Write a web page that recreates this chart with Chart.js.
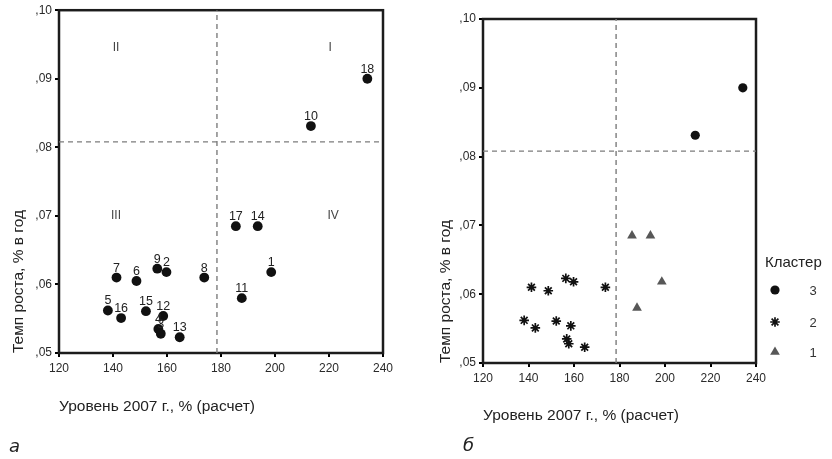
<!DOCTYPE html>
<html>
<head>
<meta charset="utf-8">
<script src="https://cdn.jsdelivr.net/npm/chart.js@4.4.1/dist/chart.umd.min.js"></script>
<style>
  body { margin: 0; background: #fff; width: 832px; height: 459px; position: relative; overflow: hidden; }
  #boxA { position: absolute; left: 0; top: 0; width: 420px; height: 459px; }
  #boxB { position: absolute; left: 420px; top: 0; width: 412px; height: 459px; }
  .tag { position: absolute; font-family: 'DejaVu Sans', sans-serif; font-style: italic; font-size: 18px; color: #222; line-height: 1; }
</style>
</head>
<body>
<div id="boxA"><canvas id="chartA" width="420" height="459"></canvas></div>
<div id="boxB"><canvas id="chartB" width="412" height="459"></canvas></div>
<div class="tag" style="left:9px; top:437px;">а</div>
<div class="tag" style="left:463px; top:436px;">б</div>

<script>
// --- data ---
const regionIds  = ['1','2','3','4','5','6','7','8','9','10','11','12','13','14','15','16','17','18'];
const level2007  = [198.6, 159.8, 157.7, 156.8, 138.1, 148.7, 141.3, 173.8, 156.4, 213.3, 187.7, 158.6, 164.7, 193.6, 152.2, 143.0, 185.5, 234.2];
const growthRate = [0.0618, 0.0618, 0.0528, 0.0535, 0.0562, 0.0605, 0.0610, 0.0610, 0.0623, 0.0831, 0.0580, 0.0554, 0.0523, 0.0685, 0.0561, 0.0551, 0.0685, 0.0900];
const clusterOf  = [1, 2, 2, 2, 2, 2, 2, 2, 2, 3, 1, 2, 2, 1, 2, 2, 1, 3];
const meanLevel  = 178.5;
const meanGrowth = 0.0808;
const xTickValues = [120, 140, 160, 180, 200, 220, 240];
const yTickValues = [0.05, 0.06, 0.07, 0.08, 0.09, 0.10];
const quadrantNames = ['I', 'II', 'III', 'IV'];
const clusterNames  = ['3', '2', '1'];

const TXT = '#222';
const FONT = "'Liberation Sans', Arial, sans-serif";

function points(filterFn) {
  const out = [];
  level2007.forEach((x, i) => { if (!filterFn || filterFn(i)) out.push({ x: x, y: growthRate[i] }); });
  return out;
}

function meanLines() {
  const yMin = yTickValues[0], yMax = yTickValues[yTickValues.length - 1];
  const xMin = xTickValues[0], xMax = xTickValues[xTickValues.length - 1];
  const dash = { showLine: true, pointRadius: 0, borderColor: '#7c7c7c', borderWidth: 1.4, borderDash: [5, 4], order: 5 };
  return [
    Object.assign({ label: 'meanX', data: [{ x: meanLevel, y: yMin }, { x: meanLevel, y: yMax }] }, dash),
    Object.assign({ label: 'meanY', data: [{ x: xMin, y: meanGrowth }, { x: xMax, y: meanGrowth }] }, dash)
  ];
}

function makeScales(yWidth, xHeight, xTitlePad, yTitlePad) {
  return {
    x: {
      type: 'linear',
      min: xTickValues[0], max: xTickValues[xTickValues.length - 1],
      afterBuildTicks: s => { s.ticks = xTickValues.map(v => ({ value: v })); },
      afterFit: s => { s.height = xHeight; },
      border: { display: false },
      grid: { drawOnChartArea: false, drawTicks: true, tickLength: 4, color: '#000', lineWidth: 2 },
      ticks: { color: '#2a2a2a', padding: 4, font: { family: FONT, size: 12 } },
      title: { display: true, text: 'Уровень 2007 г., % (расчет)', align: 'start', color: TXT,
               font: { family: FONT, size: 15.5 }, padding: { top: 0, bottom: xTitlePad } }
    },
    y: {
      type: 'linear',
      min: yTickValues[0], max: yTickValues[yTickValues.length - 1],
      afterBuildTicks: s => { s.ticks = yTickValues.map(v => ({ value: v })); },
      afterFit: s => { s.width = yWidth; },
      border: { display: false },
      grid: { drawOnChartArea: false, drawTicks: true, tickLength: 4, color: '#000', lineWidth: 2 },
      ticks: { color: '#2a2a2a', padding: 3, font: { family: FONT, size: 12 },
               callback: v => ',' + String(Math.round(v * 100)).padStart(2, '0') },
      title: { display: true, text: 'Темп роста, % в год', align: 'start', color: TXT,
               font: { family: FONT, size: 15.5 }, padding: { top: yTitlePad, bottom: 0 } }
    }
  };
}

// frame round the plot
const framePlugin = {
  id: 'frame',
  beforeDatasetsDraw(chart) {
    const a = chart.chartArea, ctx = chart.ctx;
    ctx.save();
    ctx.strokeStyle = '#1c1c1c';
    ctx.lineWidth = 2.5;
    ctx.strokeRect(a.left, a.top, a.right - a.left, a.bottom - a.top);
    ctx.restore();
  }
};

// region numbers above the points and quadrant numerals
const tagPlugin = {
  id: 'tags',
  afterDatasetsDraw(chart, args, opts) {
    if (!opts.on) return;
    const ctx = chart.ctx;
    const meta = chart.getDatasetMeta(opts.datasetIndex);
    ctx.save();
    ctx.fillStyle = TXT;
    ctx.font = '12.5px ' + FONT;
    ctx.textAlign = 'center';
    ctx.textBaseline = 'alphabetic';
    meta.data.forEach((p, i) => ctx.fillText(regionIds[i], p.x, p.y - 6));
    const xs = chart.scales.x, ys = chart.scales.y;
    ctx.fillStyle = '#444';
    ctx.textBaseline = 'middle';
    ctx.font = '12px ' + FONT;
    opts.quads.forEach(q => ctx.fillText(q.name, xs.getPixelForValue(q.x), ys.getPixelForValue(q.y)));
    ctx.restore();
  }
};

// legend "Кластер" at the right of chart б
const clusterLegend = {
  id: 'clusterLegend',
  afterDraw(chart, args, opts) {
    if (!opts.on) return;
    const ctx = chart.ctx, a = chart.chartArea;
    ctx.save();
    ctx.fillStyle = TXT;
    ctx.font = '15px ' + FONT;
    ctx.textAlign = 'left';
    ctx.textBaseline = 'middle';
    ctx.fillText('Кластер', a.right + 9, a.bottom - 100);
    const rows = [a.bottom - 73, a.bottom - 41, a.bottom - 11];
    opts.sets.forEach((dsIndex, k) => {
      const ds = chart.data.datasets[dsIndex];
      const y = rows[k];
      ctx.fillStyle = ds.backgroundColor;
      ctx.strokeStyle = ds.borderColor;
      ctx.lineWidth = ds.borderWidth;
      Chart.helpers.drawPoint(ctx, { pointStyle: ds.pointStyle, radius: ds.pointRadius, rotation: 0, borderWidth: ds.borderWidth }, a.right + 19, y);
      ctx.fillStyle = '#333';
      ctx.font = '13px ' + FONT;
      ctx.textAlign = 'center';
      ctx.fillText(ds.label, a.right + 57, y + 1);
    });
    ctx.restore();
  }
};

Chart.register(framePlugin, tagPlugin, clusterLegend);
Chart.defaults.font.family = FONT;

const baseOptions = {
  responsive: false,
  animation: false,
  events: [],
  plugins: { legend: { display: false }, tooltip: { enabled: false } }
};

// ---- chart а ----
new Chart(document.getElementById('chartA'), {
  type: 'scatter',
  data: {
    datasets: [
      { label: 'regions', data: points(), pointStyle: 'circle', pointRadius: 4.9,
        backgroundColor: '#111', borderColor: '#111', borderWidth: 0, order: 1 }
    ].concat(meanLines())
  },
  options: Object.assign({}, baseOptions, {
    layout: { padding: { left: 0, top: 10, right: 37, bottom: 0 } },
    scales: makeScales(59, 106, 42.6, 9.6),
    plugins: Object.assign({}, baseOptions.plugins, {
      tags: {
        on: true, datasetIndex: 0,
        quads: [
          { name: quadrantNames[0], x: 220.4, y: 0.0946 },
          { name: quadrantNames[1], x: 141.1, y: 0.0946 },
          { name: quadrantNames[2], x: 141.1, y: 0.0701 },
          { name: quadrantNames[3], x: 221.5, y: 0.0701 }
        ]
      },
      clusterLegend: { on: false }
    })
  })
});

// ---- chart б ----
const styleOf = {
  '3': { pointStyle: 'circle',   pointRadius: 4.6, backgroundColor: '#111', borderColor: '#111', borderWidth: 0 },
  '2': { pointStyle: 'star',     pointRadius: 4.8, backgroundColor: '#111', borderColor: '#111', borderWidth: 1.7 },
  '1': { pointStyle: 'triangle', pointRadius: 5.6, backgroundColor: '#575757', borderColor: '#575757', borderWidth: 0 }
};
const clusterSets = clusterNames.map(name => Object.assign(
  { label: name, data: points(i => String(clusterOf[i]) === name), order: 1 }, styleOf[name]));

new Chart(document.getElementById('chartB'), {
  type: 'scatter',
  data: { datasets: clusterSets.concat(meanLines()) },
  options: Object.assign({}, baseOptions, {
    layout: { padding: { left: 0, top: 19, right: 76, bottom: 0 } },
    scales: makeScales(63, 96, 33.6, 16.6),
    plugins: Object.assign({}, baseOptions.plugins, {
      tags: { on: false },
      clusterLegend: { on: true, sets: [0, 1, 2] }
    })
  })
});
</script>
</body>
</html>
